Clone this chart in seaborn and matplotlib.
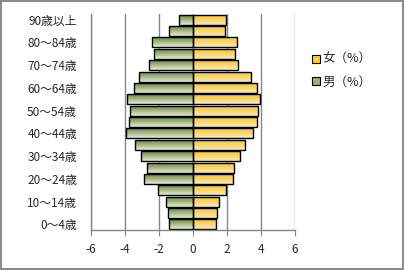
import numpy as np
import pandas as pd
import matplotlib
matplotlib.use("Agg")
import matplotlib.pyplot as plt
import seaborn as sns
from matplotlib.colors import LinearSegmentedColormap
from matplotlib.patches import Patch

ages = ["0～4歳", "5～9歳", "10～14歳", "15～19歳", "20～24歳", "25～29歳",
        "30～34歳", "35～39歳", "40～44歳", "45～49歳", "50～54歳", "55～59歳",
        "60～64歳", "65～69歳", "70～74歳", "75～79歳", "80～84歳", "85～89歳",
        "90歳以上"]
female = [1.35, 1.41, 1.53, 1.96, 2.35, 2.41, 2.76, 3.06, 3.53, 3.76,
          3.82, 3.94, 3.76, 3.41, 2.65, 2.47, 2.59, 1.88, 1.96]
male = [1.41, 1.47, 1.59, 2.04, 2.90, 2.71, 3.06, 3.43, 3.96, 3.78,
        3.72, 3.90, 3.47, 3.18, 2.59, 2.29, 2.41, 1.41, 0.82]
x_ticks = [-6, -4, -2, 0, 2, 4, 6]

sns.set_style("white")
plt.rcParams["font.family"] = ["Noto Sans CJK JP", "DejaVu Sans"]

df = pd.DataFrame({"age": ages, "female": female, "male": [-v for v in male]})
order = ages[::-1]

fig = plt.figure(figsize=(4.04, 2.70), dpi=100)
fig.patch.set_edgecolor("#8c8c8c")
fig.patch.set_linewidth(1.5)
ax = fig.add_axes([0.225, 0.148, 0.505, 0.800])

for x in x_ticks:
    ax.axvline(x, color="#868686", lw=1, zorder=0)

sns.barplot(data=df, y="age", x="female", order=order, orient="h",
            color="#FFC000", width=0.88, edgecolor="black", linewidth=1,
            ax=ax, zorder=2)
sns.barplot(data=df, y="age", x="male", order=order, orient="h",
            color="#6B8A2A", width=0.88, edgecolor="black", linewidth=1,
            ax=ax, zorder=2)

ax.set_xlim(-6, 6)
ax.set_ylim(len(ages) - 0.5, -0.5)

# vertical gradient fill like the Excel bars
gold = LinearSegmentedColormap.from_list("g", ["#FFC000", "#F3E9D2"])
olive = LinearSegmentedColormap.from_list("o", ["#5F7E22", "#E6EAE2"])
grad = np.linspace(0, 1, 64).reshape(-1, 1)
for p in ax.patches:
    x0, y0 = p.get_x(), p.get_y()
    w, h = p.get_width(), p.get_height()
    cmap = gold if w > 0 else olive
    im = ax.imshow(grad, cmap=cmap, aspect="auto", zorder=1.5,
                   extent=[x0, x0 + w, y0 + h, y0], origin="upper")
    im.set_clip_path(p)
    p.set_facecolor("none")
ax.set_xlim(-6, 6)
ax.set_ylim(len(ages) - 0.5, -0.5)

ax.set_xticks(x_ticks)
ax.set_xticklabels([str(t) for t in x_ticks])
labels = [a if i % 2 == 0 else "" for i, a in enumerate(order)]
ax.set_yticks(range(len(order)))
ax.set_yticklabels(labels)
ax.tick_params(axis="x", length=4, direction="out", color="#868686",
               labelsize=8.5, pad=5, bottom=True)
ax.tick_params(axis="y", length=0, labelsize=8.5, pad=10)
ax.set_xlabel("")
ax.set_ylabel("")
for s in ["top", "right"]:
    ax.spines[s].set_visible(False)
for s in ["left", "bottom"]:
    ax.spines[s].set_color("#868686")
    ax.spines[s].set_linewidth(1)

handles = [Patch(facecolor="#F8D040", edgecolor="black", lw=0.8, label="女（%）"),
           Patch(facecolor="#9DB07A", edgecolor="black", lw=0.8, label="男（%）")]
fig.legend(handles=handles, loc="upper left", bbox_to_anchor=(0.745, 0.845),
           frameon=False, fontsize=9, handlelength=0.6, handleheight=0.6,
           handletextpad=0.2, labelspacing=0.75)

fig.savefig("out.png", dpi=100)
